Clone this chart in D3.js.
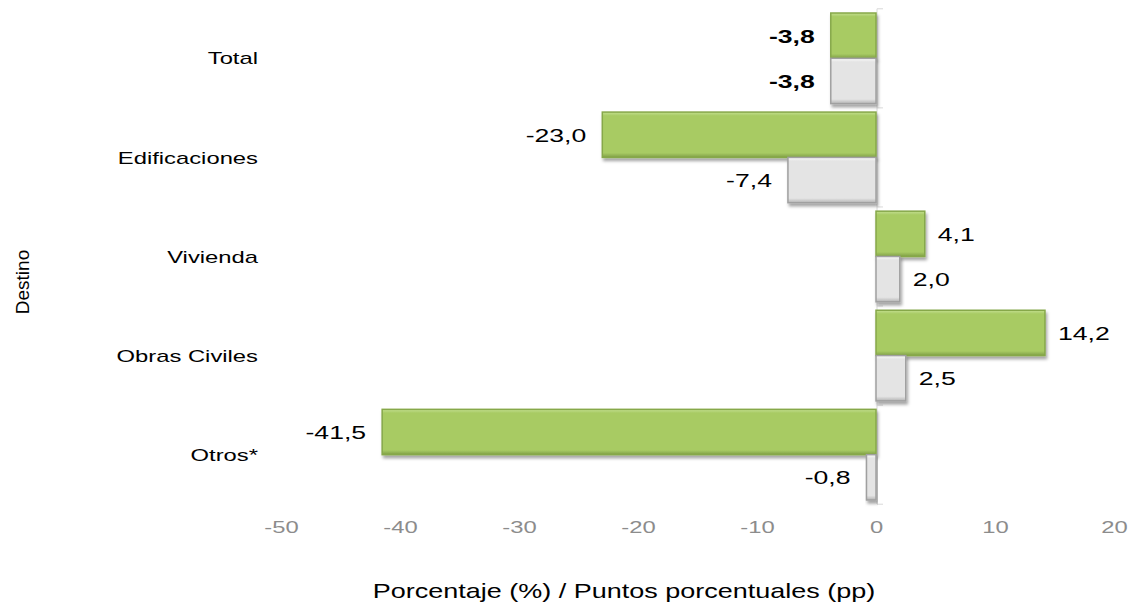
<!DOCTYPE html>
<html>
<head>
<meta charset="utf-8">
<script src="https://cdn.jsdelivr.net/npm/d3@7"></script>
<style>
body{margin:0;background:#fff;font-family:"Liberation Sans",Arial,sans-serif;}
</style>
</head>
<body>
<div id="main"></div>
<script>
// data
var categories=['Total','Edificaciones','Vivienda','Obras Civiles','Otros*'];
var pct=[-3.8,-23.0,4.1,14.2,-41.5];      // green: porcentaje
var pp=[-3.8,-7.4,2.0,2.5,-0.8];          // grey: puntos porcentuales
var xTicks=[-50,-40,-30,-20,-10,0,10,20];

var width=1130, height=603;
var SX=1.4; // the original text is stretched sideways
var fmt=function(v){return d3.format('.1f')(v).replace('.',',').replace('−','-');};

var svg=d3.select('#main').append('svg')
    .attr('width',width)
    .attr('height',height);

var defs=svg.append('defs');
var f=defs.append('filter').attr('id','shadow')
    .attr('x','-10%').attr('y','-20%').attr('width','130%').attr('height','160%');
f.append('feDropShadow').attr('dx',1.5).attr('dy',3).attr('stdDeviation',1.8)
    .attr('flood-color','#000').attr('flood-opacity',0.35);

function grad(id,top,mid,bot){
  var g=defs.append('linearGradient').attr('id',id).attr('x1',0).attr('y1',0).attr('x2',0).attr('y2',1);
  g.append('stop').attr('offset','0%').attr('stop-color',top);
  g.append('stop').attr('offset','8%').attr('stop-color',mid);
  g.append('stop').attr('offset','90%').attr('stop-color',mid);
  g.append('stop').attr('offset','100%').attr('stop-color',bot);
}
grad('gGreen','#c4df90','#a8cb64','#7f9f45');
grad('gGrey','#fafafa','#e4e4e4','#b3b3b3');

var x=d3.scaleLinear().domain([-50,20]).range([281,1114]);
var y=d3.scaleBand().domain(categories).range([13,500]).paddingInner(0.085).paddingOuter(0);
var sub=d3.scaleBand().domain(['pct','pp']).range([0,y.bandwidth()]);
var half=y.step()*y.paddingInner()/2;

// category axis at zero
var ax=svg.append('g').attr('class','axes');
var bounds=categories.map(function(c){return y(c)-half;});
bounds.push(y(categories[categories.length-1])+y.bandwidth()+half);
ax.append('line')
    .attr('x1',x(0)+1).attr('x2',x(0)+1)
    .attr('y1',bounds[0]).attr('y2',bounds[bounds.length-1])
    .attr('stroke','#d9d9d9').attr('stroke-width',1);
ax.selectAll('.tk').data(bounds).enter().append('line')
    .attr('x1',x(0)+1).attr('x2',x(0)+7)
    .attr('y1',function(d){return d;}).attr('y2',function(d){return d;})
    .attr('stroke','#d9d9d9');

var rows=[];
categories.forEach(function(c,i){
  rows.push({cat:c,key:'pct',v:pct[i],bold:i===0});
  rows.push({cat:c,key:'pp',v:pp[i],bold:i===0});
});

var bars=svg.append('g').attr('class','bars');
bars.selectAll('rect').data(rows).enter().append('rect')
    .attr('x',function(d){return Math.min(x(d.v),x(0));})
    .attr('y',function(d){return y(d.cat)+sub(d.key);})
    .attr('width',function(d){return Math.abs(x(d.v)-x(0));})
    .attr('height',sub.bandwidth())
    .attr('fill',function(d){return d.key==='pct'?'url(#gGreen)':'url(#gGrey)';})
    .attr('stroke',function(d){return d.key==='pct'?'#86a84a':'#a0a0a0';})
    .attr('stroke-width',1.5)
    .attr('filter','url(#shadow)');

svg.append('g').selectAll('text').data(rows).enter().append('text')
    .attr('transform',function(d){
      var tx=d.v<0?x(d.v)-16:x(d.v)+13;
      var ty=y(d.cat)+sub(d.key)+sub.bandwidth()/2;
      return 'translate('+tx+','+ty+') scale('+SX+',1)';
    })
    .attr('dy','0.36em')
    .attr('text-anchor',function(d){return d.v<0?'end':'start';})
    .attr('font-size',19)
    .attr('font-weight',function(d){return d.bold?'bold':'normal';})
    .attr('fill','#000')
    .text(function(d){return fmt(d.v);});

// category labels
svg.append('g').selectAll('text').data(categories).enter().append('text')
    .attr('transform',function(c){return 'translate(258,'+(y(c)+y.bandwidth()/2)+') scale('+SX+',1)';})
    .attr('dy','0.36em')
    .attr('text-anchor','end')
    .attr('font-size',17)
    .text(function(c){return c;});

// x axis labels
var xa=svg.append('g').attr('transform','translate(0,527)')
    .call(d3.axisBottom(x).tickValues(xTicks).tickSize(0).tickFormat(function(d){return d3.format('d')(d).replace('−','-');}));
xa.select('.domain').remove();
xa.selectAll('text')
    .attr('y',0).attr('dy','0.36em')
    .attr('transform','scale('+SX+',1)')
    .attr('font-size',17).attr('fill','#8c8c8c')
    .attr('font-family','"Liberation Sans",Arial,sans-serif');

svg.append('text')
    .attr('transform','translate(624,598) scale(1.35,1)')
    .attr('text-anchor','middle')
    .attr('font-size',20)
    .text('Porcentaje (%) / Puntos porcentuales (pp)');

svg.append('text')
    .attr('transform','translate(29,282) rotate(-90)')
    .attr('text-anchor','middle')
    .attr('font-family','"Liberation Sans Narrow","Liberation Sans",Arial,sans-serif')
    .attr('font-size',19)
    .text('Destino');
</script>
</body>
</html>
